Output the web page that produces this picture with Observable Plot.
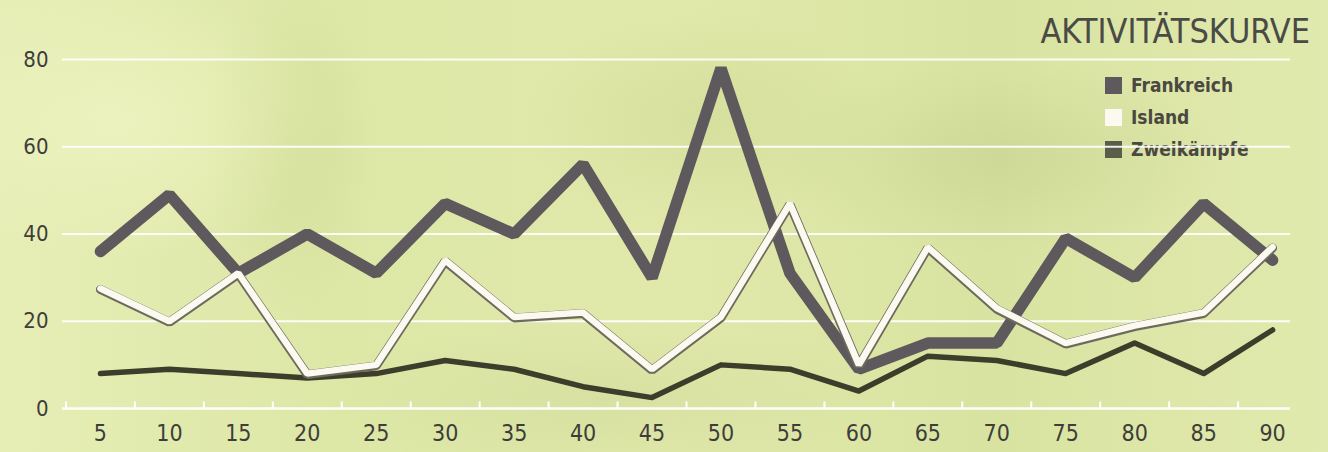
<!DOCTYPE html>
<html>
<head>
<meta charset="utf-8">
<script src="https://cdn.jsdelivr.net/npm/d3@7"></script>
<script src="https://cdn.jsdelivr.net/npm/@observablehq/plot@0.6"></script>
<style>
  html, body { margin: 0; padding: 0; }
  #wrap {
    position: relative; width: 1328px; height: 452px; overflow: hidden;
    background:
      radial-gradient(ellipse 300px 200px at 120px 120px, rgba(240,245,195,0.7), rgba(240,245,195,0) 70%),
      radial-gradient(ellipse 120px 260px at 290px 150px, rgba(200,212,140,0.35), rgba(200,212,140,0) 70%),
      radial-gradient(ellipse 250px 160px at 700px 120px, rgba(200,210,140,0.4), rgba(200,210,140,0) 70%),
      radial-gradient(ellipse 320px 140px at 1000px 160px, rgba(190,200,135,0.4), rgba(190,200,135,0) 70%),
      radial-gradient(ellipse 400px 120px at 600px 400px, rgba(205,215,150,0.45), rgba(205,215,150,0) 70%),
      linear-gradient(90deg, #e6eeb6 0%, #dde7a6 25%, #e0e9aa 50%, #d9e3a1 75%, #e1eaae 100%);
    font-family: "DejaVu Sans Condensed", "Liberation Sans Narrow", "DejaVu Sans", sans-serif;
    font-stretch: condensed;
  }
  #wrap svg { position: absolute; left: 0; top: 0; background: transparent; }
  #title {
    position: absolute; right: 18px; top: 14px; font-size: 34px; color: #4a4a46;
    line-height: 1;
  }
  #legend { position: absolute; left: 1105px; top: 69px; }
  .item { display: flex; align-items: center; height: 32px; font-size: 19px; font-weight: bold; color: #4b4842; }
  .sw { width: 17px; height: 17px; margin-right: 9px; }
</style>
</head>
<body>
<div id="wrap">
  <div id="title">AKTIVITÄTSKURVE</div>
  <div id="legend"></div>
</div>
<script>
const minutes = [5,10,15,20,25,30,35,40,45,50,55,60,65,70,75,80,85,90];
const frankreich = [36,49,31,40,31,47,40,56,30,78,31,9,15,15,39,30,47,34];
const island     = [27.5,20,31,8,10,34,21,22,9,21,47,10,37,23,15,19,22,37];
const zweikaempfe= [8,9,8,7,8,11,9,5,2.5,10,9,4,12,11,8,15,8,18];
const yTicks = [0,20,40,60,80];
const seriesNames = ["Frankreich","Island","Zweikämpfe"];
const seriesColors = ["#5d595d","#fbf9f0","#3c3d2a"];

const rows = (vals) => minutes.map((m,i) => ({x: m, y: vals[i]}));
const fr = rows(frankreich), is = rows(island), zw = rows(zweikaempfe);
const minorTicks = d3.range(2.5, 92, 5);

const font = '"DejaVu Sans Condensed", "Liberation Sans Narrow", "DejaVu Sans", sans-serif';

const chart = Plot.plot({
  width: 1328,
  height: 452,
  marginLeft: 62,
  marginRight: 38,
  marginTop: 59,
  marginBottom: 44,
  style: {background: "transparent", fontFamily: font, fontStretch: "condensed"},
  x: {domain: [2.25, 91.3]},
  y: {domain: [0, 80]},
  marks: [
    Plot.gridY(yTicks.filter(d => d > 0), {stroke: "#ffffff", strokeOpacity: 0.9, strokeWidth: 2}),
    Plot.ruleY([0], {stroke: "#ffffff", strokeWidth: 2.5, strokeOpacity: 0.95}),
    Plot.ruleX(minorTicks, {y1: 0, y2: 1.5, stroke: "#ffffff", strokeWidth: 2}),
    Plot.axisY(yTicks, {tickSize: 0, tickPadding: 14, fontSize: 22, fill: "#3e3d3a", label: null}),
    Plot.axisX(minutes, {tickSize: 0, tickPadding: 16, fontSize: 23, fill: "#3e3d3a", label: null}),
    Plot.line(zw, {x: "x", y: "y", stroke: seriesColors[2], strokeWidth: 5.5, strokeLinejoin: "round", strokeLinecap: "round"}),
    Plot.line(fr, {x: "x", y: "y", stroke: seriesColors[0], strokeWidth: 11.5, strokeLinejoin: "miter", strokeLinecap: "round"}),
    Plot.line(is, {x: "x", y: "y", stroke: "#6d6a5e", strokeWidth: 9, dy: 1, strokeLinejoin: "miter"}),
    Plot.line(is, {x: "x", y: "y", stroke: seriesColors[1], strokeWidth: 6.5, strokeLinejoin: "miter"})
  ]
});
document.getElementById("wrap").appendChild(chart);

const legend = document.getElementById("legend");
seriesNames.forEach((n, i) => {
  const it = document.createElement("div");
  it.className = "item";
  const sw = document.createElement("div");
  sw.className = "sw";
  sw.style.background = i === 2 ? "#5a5e48" : seriesColors[i];
  const t = document.createElement("span");
  t.textContent = n;
  it.appendChild(sw); it.appendChild(t);
  legend.appendChild(it);
});
</script>
</body>
</html>
